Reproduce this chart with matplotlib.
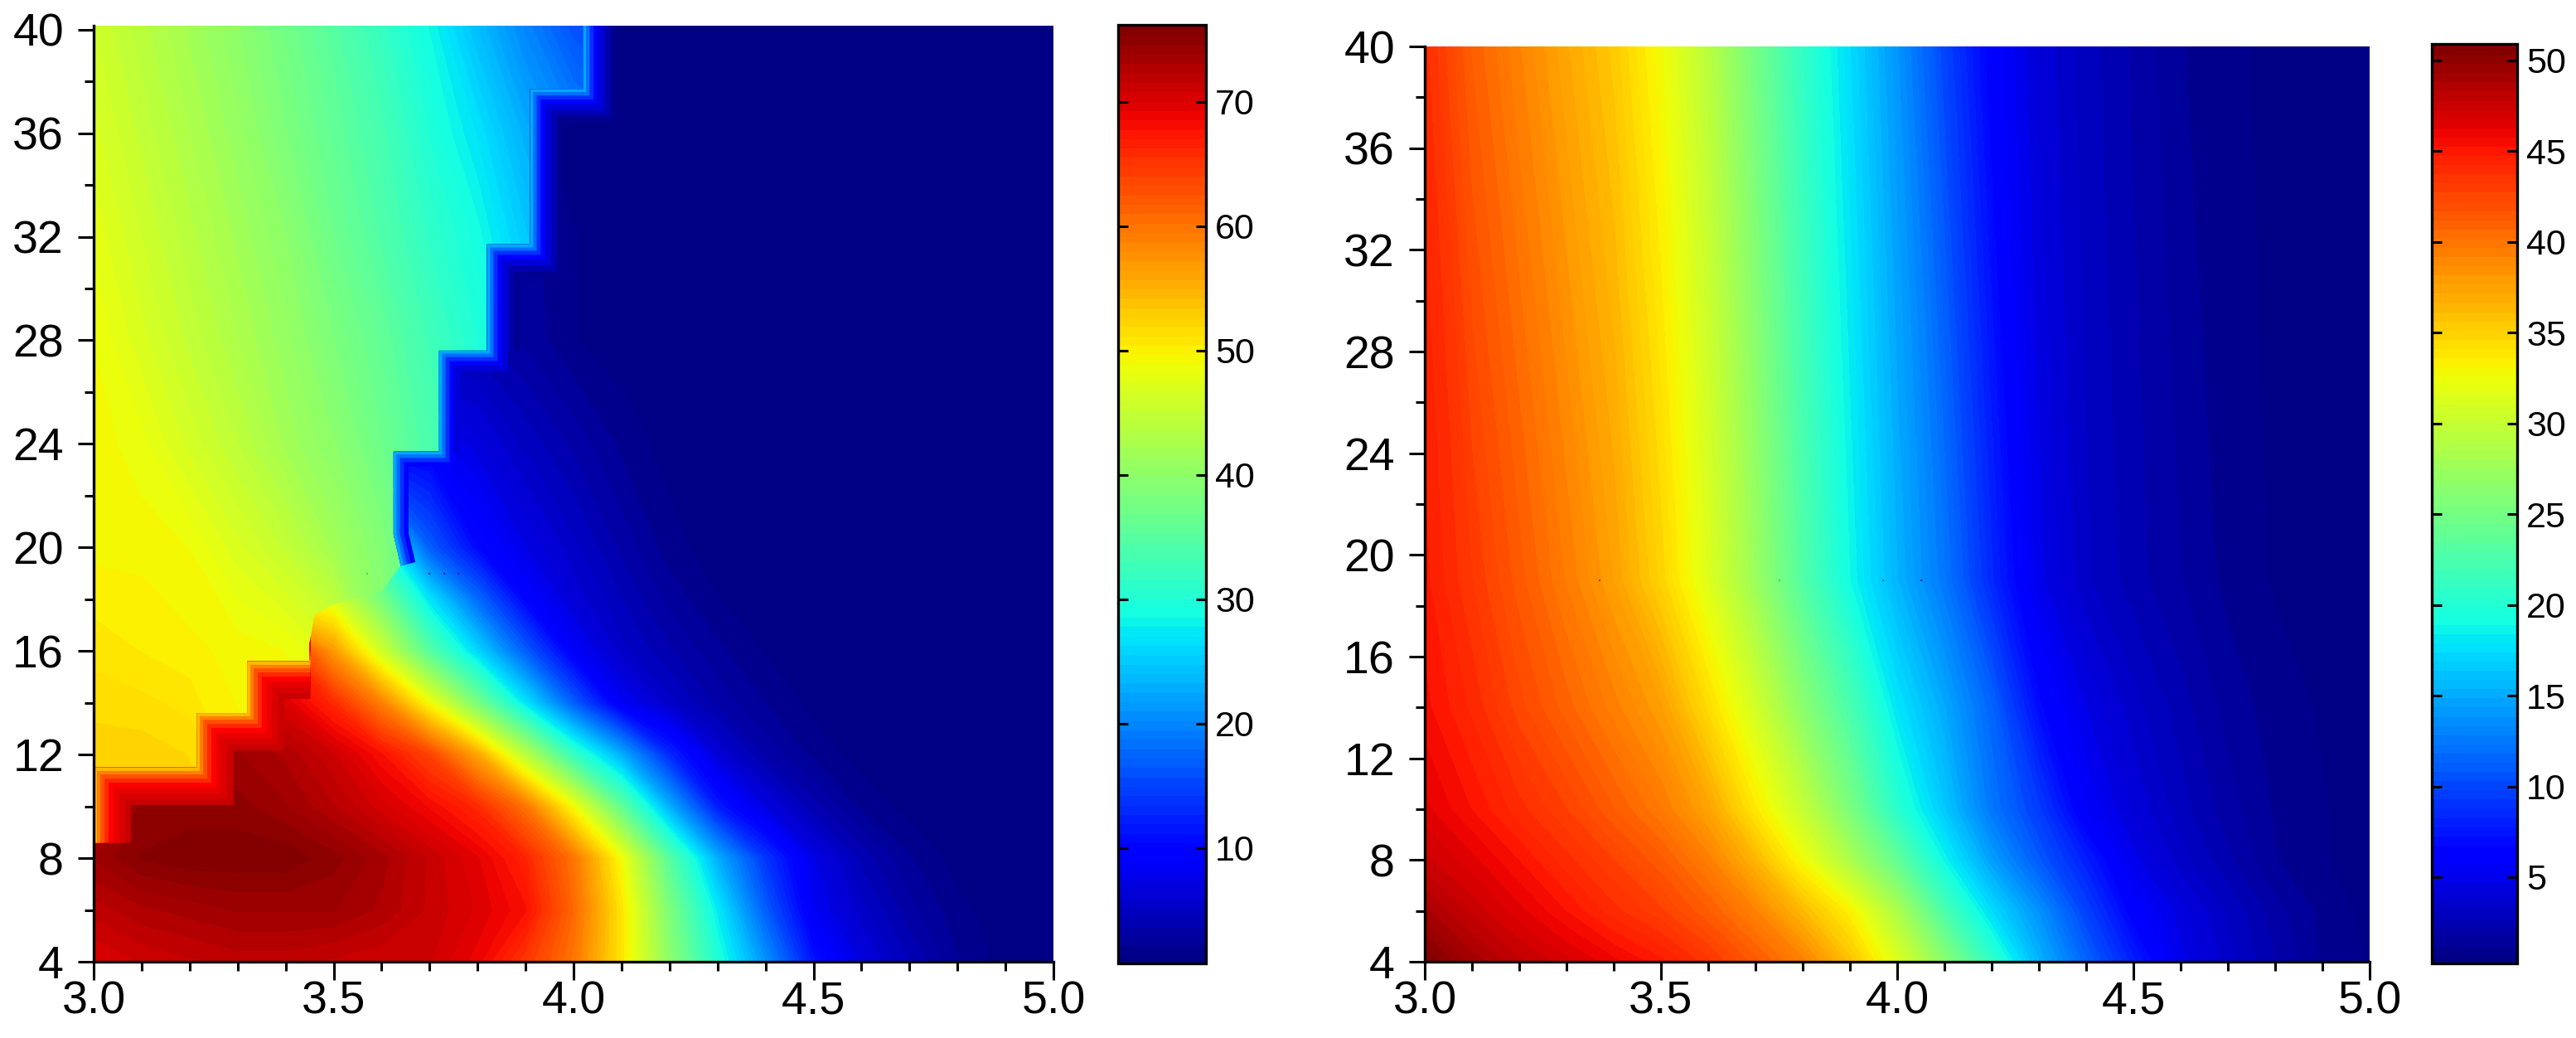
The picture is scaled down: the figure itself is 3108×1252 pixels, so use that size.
import numpy as np
import matplotlib
matplotlib.use('Agg')
import matplotlib.pyplot as plt
from matplotlib.patches import Polygon
from matplotlib.ticker import MultipleLocator, FormatStrFormatter

plt.rcParams['font.family'] = ['Liberation Sans', 'DejaVu Sans']

W, H = 3108, 1252

# left panel, smooth field (red core and the fall-off to the lower right)
x_left = [3.0, 3.1, 3.2, 3.3, 3.4, 3.5, 3.6, 3.7, 3.8, 3.9, 4.0,
          4.1, 4.2, 4.3, 4.4, 4.5, 4.6, 4.7, 4.8, 4.9, 5.0]
y_left = [4, 6, 8, 10, 12, 14, 16, 18, 20, 24, 28, 32, 40.2]
z_left = np.array([
    [70, 71, 71.5, 72, 72, 71.5, 71, 71, 69, 65, 60, 51, 40, 30, 21, 11.5, 7, 4.5, 2.3, 1.1, .8],
    [72, 73, 73.5, 74, 74, 74, 73, 71.5, 70, 68, 61, 51, 38.5, 27.5, 17, 8.5, 5.5, 3.2, 1.7, 1, .8],
    [74, 75.5, 76, 76, 76, 75, 73.5, 71.5, 69.5, 66.5, 60, 49, 35, 23, 14, 7.5, 4.2, 2.3, 1.1, .8, .7],
    [70, 75, 75, 75, 74, 72.5, 70.5, 68.5, 66, 60, 49, 36, 23, 12, 7, 4, 2, 1.1, .8, .7, .7],
    [74, 74, 74, 74, 73, 71, 68, 64, 56, 44, 32, 23, 13, 6.5, 3.5, 2, 1.1, .8, .7, .7, .7],
    [72, 72, 72, 72, 70, 66, 59, 49, 38, 27, 17, 8.5, 5.5, 3.5, 2.2, 1.2, .9, .8, .7, .7, .7],
    [70, 70, 70, 69, 66, 57, 46, 35, 26, 17, 9, 5.5, 3.8, 2.4, 1.4, 1, .8, .7, .7, .7, .7],
    [50, 50, 50, 50, 50, 47, 38, 27, 18, 10, 6.5, 4.5, 2.7, 1.5, 1, .8, .7, .7, .7, .7, .7],
    [50, 50, 50, 50, 45, 42, 30, 17, 10.5, 7.5, 5.5, 3.5, 1.8, 1, .8, .7, .7, .7, .7, .7, .7],
    [9, 9, 9, 9, 9, 9, 9, 9, 7, 5, 3.5, 2, 1.1, .8, .7, .7, .7, .7, .7, .7, .7],
    [4.5, 4.5, 4.5, 4.5, 4.5, 4.5, 4.5, 4.5, 4, 2.8, 1.5, 1, .8, .7, .7, .7, .7, .7, .7, .7, .7],
    [2.5, 2.5, 2.5, 2.5, 2.5, 2.5, 2.5, 2.5, 2.5, 2.5, 1.5, 1, .8, .7, .7, .7, .7, .7, .7, .7, .7],
    [1, 1, 1, 1, 1, 1, 1, 1, 1, 1, .9, .8, .7, .7, .7, .7, .7, .7, .7, .7, .7],
])

# left panel, upper regime (yellow to cyan), ends on the stepped edge
x_upper = [3.0, 3.1, 3.2, 3.3, 3.4, 3.5, 3.6, 3.7, 3.8, 3.9, 4.0, 4.1]
y_upper = [8, 12, 16, 20, 24, 28, 32, 36, 40.2]
z_upper = np.array([
    [53, 53, 52.5, 52, 50, 50, 48, 44, 40, 36, 32, 28],
    [52.5, 52.5, 52, 50, 49.5, 49, 46, 42, 38, 34, 30, 26],
    [51, 50.5, 50, 49.5, 49, 47, 40, 33, 30, 28, 26, 24],
    [49.5, 49.5, 49, 47, 45, 42, 39, 35, 31, 28, 26, 24],
    [49.5, 48.5, 46.5, 44.5, 42, 40, 37, 34, 31, 28, 26, 24],
    [49, 47, 45, 43, 41, 38.5, 36, 33, 30, 27, 24, 22],
    [48, 46, 44, 42, 40, 37, 34.5, 31.5, 29, 25, 22, 20],
    [47, 45, 43, 41, 38.5, 36, 33.5, 30, 27, 23, 20, 18],
    [46, 44, 42, 40, 37.5, 35, 32, 28.5, 24, 20, 16, 14],
])

# stepped edges of the upper regime
red_edge_x = [3.0, 3.0, 3.215, 3.215, 3.32, 3.32, 3.45]
red_edge_y = [8.6, 11.5, 11.5, 13.6, 13.6, 15.6, 15.6]
mid_edge_x = [3.45, 3.46, 3.5, 3.6]
mid_edge_y = [16.3, 17.4, 17.8, 18.3]
blue_edge_x = [3.64, 3.625, 3.625, 3.72, 3.72, 3.82, 3.82, 3.91, 3.91, 4.02, 4.02]
blue_edge_y = [19.3, 20.5, 23.7, 23.7, 27.6, 27.6, 31.7, 31.7, 37.7, 37.7, 40.2]

# right panel
x_right = x_left
y_right = [4, 6, 8, 10, 14, 19, 40]
z_right = np.array([
    [50.9, 49.2, 48, 47, 46, 45, 43.5, 41.5, 39.5, 36, 31.5, 26.5, 21, 15.5, 11.5, 8, 5, 3.5, 2.3, 1.2, .7],
    [49, 47.7, 46.5, 45.3, 44, 42.9, 41.3, 39.3, 36.3, 33.3, 28.5, 22.5, 17.5, 13.8, 9.8, 6.3, 4.5, 3.2, 2, 1.1, .6],
    [47.5, 46.5, 45.3, 44, 42.8, 41.4, 39.5, 36.5, 32.7, 28.5, 24, 18.8, 14.5, 11, 8, 5, 3.5, 2.4, 1.3, .8, .5],
    [46.5, 45.3, 44, 42.8, 41.3, 39.8, 37.5, 33.8, 30, 25.5, 20.5, 16.5, 12.5, 9.5, 5.8, 4.2, 3, 2, 1.2, .8, .5],
    [45.5, 44.2, 42.5, 41, 39.5, 37.8, 34.5, 30.8, 26.5, 22.5, 18, 15, 11.5, 7, 4.8, 3.5, 2.5, 1.6, 1, .7, .5],
    [45, 43.3, 41.5, 39.7, 37.7, 35, 31.5, 27.5, 23, 19, 15.5, 12.5, 8.5, 5, 3.4, 2.5, 1.8, 1.1, .7, .5, .4],
    [44, 41.2, 39.3, 37.3, 35.5, 32.7, 29.3, 25, 21, 17.5, 14, 10, 6.3, 4.2, 3, 2.2, 1.3, .9, .6, .5, .4],
])

# colour scales
left_range = (0.7, 76.2)
right_range = (0.25, 50.9)
left_ticks = [10, 20, 30, 40, 50, 60, 70]
right_ticks = [5, 10, 15, 20, 25, 30, 35, 40, 45, 50]

# stray pixels along y = 19
left_specks_x = [3.57, 3.7, 3.73, 3.76]
left_specks_c = ['#30e060', '#0000c0', '#0000c0', '#0000c0']
right_specks_x = [3.37, 3.75, 3.97, 4.05]
right_specks_c = ['#d02000', '#40d060', '#0060c0', '#0020a0']
speck_y = 19


def make_axes(px_left, px_top, px_right, px_bottom):
    return fig.add_axes([px_left / W, 1 - px_bottom / H,
                         (px_right - px_left) / W, (px_bottom - px_top) / H])


def style_panel(ax, ymax):
    ax.set_xlim(3, 5)
    ax.set_ylim(4, ymax)
    ax.spines['top'].set_visible(False)
    ax.spines['right'].set_visible(False)
    ax.spines['left'].set_linewidth(2.4)
    ax.spines['bottom'].set_linewidth(2.4)
    ax.xaxis.set_major_locator(MultipleLocator(0.5))
    ax.xaxis.set_minor_locator(MultipleLocator(0.1))
    ax.xaxis.set_major_formatter(FormatStrFormatter('%.1f'))
    ax.yaxis.set_major_locator(MultipleLocator(4))
    ax.yaxis.set_minor_locator(MultipleLocator(2))
    ax.tick_params(axis='x', which='major', length=16, width=2.2, labelsize=40, pad=0)
    ax.tick_params(axis='y', which='major', length=14, width=2.2, labelsize=40, pad=12)
    ax.tick_params(which='minor', length=8, width=2.2)
    ax.set_axisbelow(False)


def style_cbar(cax, ticks):
    cax.yaxis.set_ticks(ticks)
    cax.yaxis.set_ticks([], minor=True)
    cax.tick_params(axis='y', which='major', direction='in', left=True, right=True,
                    labelleft=False, labelright=True, length=8.5, width=2.2,
                    labelsize=31, pad=8)


fig = plt.figure(figsize=(W / 100, H / 100), dpi=100, facecolor='white')

ax1 = make_axes(113, 31, 1271, 1160)
ax2 = make_axes(1719, 56, 2859, 1160)
cax1 = make_axes(1349, 30, 1455, 1162)
cax2 = make_axes(2934, 53, 3037, 1162)

levels1 = np.linspace(left_range[0], left_range[1], 101)
levels2 = np.linspace(right_range[0], right_range[1], 101)

# left panel
base = ax1.contourf(x_left, y_left, z_left, levels=levels1, cmap='jet')
edge_x = red_edge_x + mid_edge_x + blue_edge_x
edge_y = red_edge_y + mid_edge_y + blue_edge_y
upper_clip = Polygon(list(zip(edge_x + [3.0], edge_y + [40.2])), transform=ax1.transData)
lower_clip = Polygon(list(zip(edge_x + [5.0, 5.0, 3.0], edge_y + [40.2, 4.0, 4.0])),
                     transform=ax1.transData)
upper = ax1.contourf(x_upper, y_upper, z_upper, levels=levels1, cmap='jet')
upper.set_clip_path(upper_clip)

# soft rims on the low side of the steps, widest first
for width, colour in [(64, '#c80000'), (54, '#d80000'), (44, '#e80000'), (34, '#ff0000'),
                      (26, '#ff2800'), (18, '#ff5000'), (11, '#ff8000'), (5, '#ffb800')]:
    line, = ax1.plot(red_edge_x, red_edge_y, color=colour, lw=width,
                     solid_joinstyle='miter', solid_capstyle='butt')
    line.set_clip_path(lower_clip)
# the dark outer rims only where the ground beside the steps is already navy
for width, colour, first in [(56, '#000090', 5), (46, '#0000b0', 5), (36, '#0000d8', 3),
                             (26, '#0000ff', 0), (18, '#0030ff', 0), (11, '#0070ff', 0),
                             (5, '#00a8ff', 0)]:
    line, = ax1.plot(blue_edge_x[first:], blue_edge_y[first:], color=colour, lw=width,
                     solid_joinstyle='miter', solid_capstyle='butt')
    line.set_clip_path(lower_clip)

for sx, sc in zip(left_specks_x, left_specks_c):
    ax1.plot([sx], [speck_y], 's', color=sc, ms=2, mew=0)
style_panel(ax1, 40.15)

# right panel
field2 = ax2.contourf(x_right, y_right, z_right, levels=levels2, cmap='jet')
for sx, sc in zip(right_specks_x, right_specks_c):
    ax2.plot([sx], [speck_y], 's', color=sc, ms=2, mew=0)
style_panel(ax2, 40)

# colour bars
cb1 = fig.colorbar(base, cax=cax1)
cb2 = fig.colorbar(field2, cax=cax2)
for cb in (cb1, cb2):
    cb.outline.set_linewidth(2.4)
    cb.solids.set_edgecolor('face')
style_cbar(cax1, left_ticks)
style_cbar(cax2, right_ticks)

fig.savefig('out.png', dpi=100, facecolor='white')
